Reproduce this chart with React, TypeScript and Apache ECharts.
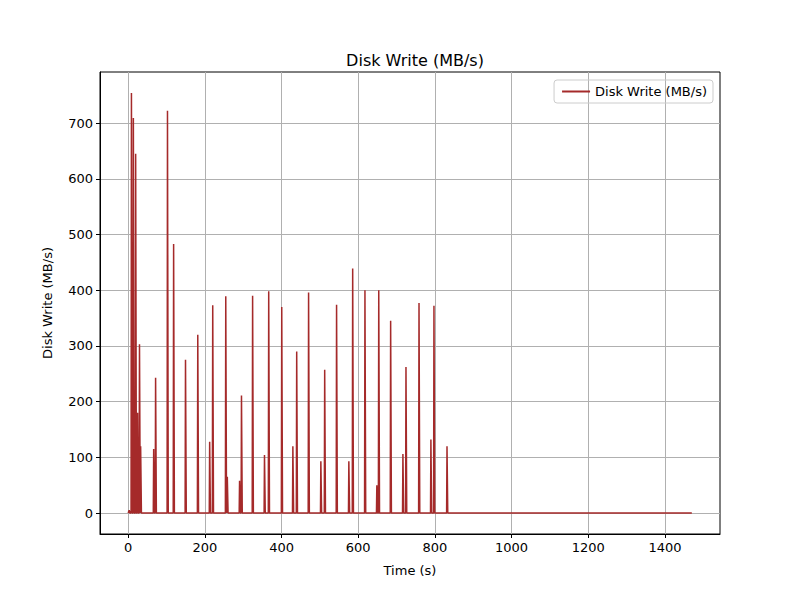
import React, { useEffect, useRef } from 'react';
import * as echarts from 'echarts';

// spike times (s) and heights (MB/s)
const spikeTimes = [3, 9, 14, 20, 25, 30, 33, 67, 72, 103, 119, 150, 182, 213, 221, 255, 259, 291, 296, 325, 356, 367, 401, 430, 440, 471, 503, 513, 544, 576, 586, 618, 649, 654, 685, 717, 725, 759, 790, 798, 832];
const spikeValues = [5, 754, 709, 645, 180, 303, 120, 115, 243, 722, 483, 275, 320, 128, 373, 389, 65, 58, 211, 390, 104, 398, 370, 120, 290, 396, 93, 257, 374, 93, 439, 400, 50, 400, 345, 106, 262, 377, 132, 372, 120];
const endTime = 1470;
const xTicks = [0, 200, 400, 600, 800, 1000, 1200, 1400];
const yTicks = [0, 100, 200, 300, 400, 500, 600, 700];

const App = () => {
  const chartRef = useRef(null);

  useEffect(() => {
    const chart = echarts.init(chartRef.current, null, { renderer: 'svg' });

    const data: number[][] = [[0, 0]];
    spikeTimes.forEach((t, i) => {
      data.push([t - 1.5, 0], [t - 0.5, spikeValues[i]], [t + 0.5, spikeValues[i]], [t + 1.5, 0]);
    });
    data.push([endTime, 0]);

    const font = 'DejaVu Sans';
    const option = {
      animation: false,
      textStyle: { fontFamily: font },
      title: {
        text: 'Disk Write (MB/s)',
        left: 410,
        top: 47,
        textAlign: 'center',
        textStyle: { fontSize: 16, fontWeight: 'normal', color: '#000', fontFamily: font },
      },
      legend: {
        data: ['Disk Write (MB/s)'],
        right: 87,
        top: 80,
        icon: 'rect',
        itemWidth: 28,
        itemHeight: 2,
        borderColor: '#cccccc',
        borderWidth: 1,
        borderRadius: 3,
        padding: [5, 6, 5, 8],
        textStyle: { fontSize: 13, color: '#000', fontFamily: font },
      },
      grid: {
        left: 100,
        right: 80,
        top: 72,
        bottom: 66,
        show: true,
        borderColor: '#000',
        borderWidth: 1,
      },
      xAxis: {
        type: 'value',
        min: -73.5,
        max: 1543.5,
        name: 'Time (s)',
        nameLocation: 'middle',
        nameGap: 30,
        nameTextStyle: { fontSize: 13, color: '#000' },
        axisLine: { show: true, onZero: false, lineStyle: { color: '#000' } },
        axisTick: { show: true, length: 4, lineStyle: { color: '#000' }, customValues: xTicks },
        axisLabel: { fontSize: 13, color: '#000', margin: 7, customValues: xTicks, formatter: (v: number) => String(v) },
        splitLine: { show: true, lineStyle: { color: '#b0b0b0', width: 1 } },
      },
      yAxis: {
        type: 'value',
        min: -37.7,
        max: 791.7,
        name: 'Disk Write (MB/s)',
        nameLocation: 'middle',
        nameGap: 46,
        nameTextStyle: { fontSize: 13, color: '#000' },
        axisLine: { show: true, onZero: false, lineStyle: { color: '#000' } },
        axisTick: { show: true, length: 4, lineStyle: { color: '#000' }, customValues: yTicks },
        axisLabel: { fontSize: 13, color: '#000', margin: 7, customValues: yTicks, formatter: (v: number) => String(v) },
        splitLine: { show: true, lineStyle: { color: '#b0b0b0', width: 1 } },
      },
      series: [
        {
          name: 'Disk Write (MB/s)',
          type: 'line',
          data,
          showSymbol: false,
          itemStyle: { color: '#a52a2a' },
          lineStyle: { color: '#a52a2a', width: 1.5 },
        },
      ],
    };

    chart.setOption(option);
    return () => {
      chart.dispose();
    };
  }, []);

  return <div ref={chartRef} style={{ width: '800px', height: '600px', margin: '-8px' }} />;
};

export default App;
